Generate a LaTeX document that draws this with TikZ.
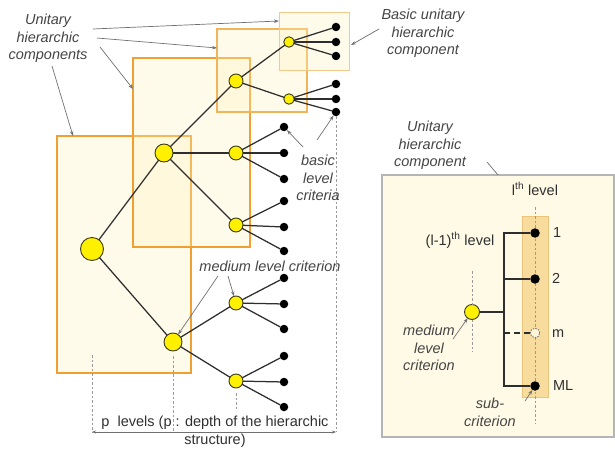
\documentclass[tikz,border=0pt]{standalone}
\usepackage{fontspec}
\setmainfont{Liberation Sans}
\usetikzlibrary{arrows.meta}
\definecolor{orng}{HTML}{F0A030}
\definecolor{orng2}{HTML}{F2B45A}
\definecolor{orng3}{HTML}{F4C98A}
\definecolor{boxfill}{HTML}{FFF3BC}
\definecolor{yel}{HTML}{FFF000}
\definecolor{ybord}{HTML}{3C3C1E}
\definecolor{edgec}{HTML}{2E2E2E}
\definecolor{leadc}{HTML}{707070}
\definecolor{dashc}{HTML}{9A9A9A}
\definecolor{labc}{HTML}{454545}
\definecolor{txtc}{HTML}{303030}
\definecolor{panfill}{HTML}{FEFAE6}
\definecolor{panbord}{HTML}{B5B5B5}
\definecolor{tanfill}{HTML}{F8DC9E}
\definecolor{tanbord}{HTML}{EBC47C}
\definecolor{mfill}{HTML}{FFF6D8}
\begin{document}
\begin{tikzpicture}[x=1pt,y=-1pt,
  every node/.style={inner sep=0pt, outer sep=0pt},
  ubox/.style={rectangle, draw=orng, line width=1.6pt, fill=boxfill, fill opacity=0.3, draw opacity=1, text opacity=1},
  ynode/.style={circle, draw=ybord, line width=0.9pt, fill=yel},
  leaf/.style={circle, fill=black, minimum size=8.5pt},
  edge/.style={draw=edgec, line width=1.25pt},
  lead/.style={draw=leadc, line width=0.7pt, -{Stealth[length=5pt,width=3.5pt]}},
  dsh/.style={draw=dashc, line width=0.7pt, dash pattern=on 2.5pt off 2pt},
  lab/.style={font=\fontsize{14.5}{17.5}\selectfont\itshape, text=labc, align=center},
  txt/.style={font=\fontsize{14.5}{18}\selectfont, text=txtc, align=center}
]
\useasboundingbox (0,0) rectangle (615,449);
\fill[white] (0,0) rectangle (615,449);

% ---------- left: unitary hierarchic component boxes
\node[ubox, minimum width=134pt, minimum height=237pt] (box1) at (124,254.5) {};
\node[ubox, minimum width=117pt, minimum height=189pt] (box2) at (191.5,152.5) {};
\node[ubox, draw=orng2, line width=1.3pt, minimum width=90pt, minimum height=83pt] (box3) at (262,70.5) {};
\node[ubox, draw=orng3, line width=1pt, minimum width=70pt, minimum height=58pt] (box4) at (314,42) {};

% ---------- tree nodes
\node[ynode, minimum size=23pt] (R) at (92,249) {};
\node[ynode, minimum size=18pt] (A) at (164,153) {};
\node[ynode, minimum size=18pt] (B) at (173,342) {};
\node[ynode, minimum size=14pt] (A1) at (236,81) {};
\node[ynode, minimum size=14pt] (A2) at (236,153) {};
\node[ynode, minimum size=14pt] (A3) at (236,225) {};
\node[ynode, minimum size=14pt] (B1) at (236,303) {};
\node[ynode, minimum size=14pt] (B2) at (236,381) {};
\node[ynode, minimum size=10.5pt] (A1a) at (289,42) {};
\node[ynode, minimum size=10.5pt] (A1b) at (289,99) {};

% leaves
\node[leaf] (L1) at (336,27) {};
\node[leaf] (L2) at (336,42) {};
\node[leaf] (L3) at (336,56) {};
\node[leaf] (L4) at (336,84) {};
\node[leaf] (L5) at (336,99) {};
\node[leaf] (L6) at (336,112) {};
\node[leaf] (L7) at (284,127) {};
\node[leaf] (L8) at (284,153) {};
\node[leaf] (L9) at (284,179) {};
\node[leaf] (L10) at (284,201) {};
\node[leaf] (L11) at (284,227) {};
\node[leaf] (L12) at (284,251) {};
\node[leaf] (L13) at (284,278) {};
\node[leaf] (L14) at (284,304) {};
\node[leaf] (L15) at (284,329) {};
\node[leaf] (L16) at (284,356) {};
\node[leaf] (L17) at (284,382) {};
\node[leaf] (L18) at (284,407) {};

% tree edges
\draw[edge] (R) -- (A);
\draw[edge] (R) -- (B);
\draw[edge] (A) -- (A1);
\draw[edge] (A) -- (A2);
\draw[edge] (A) -- (A3);
\draw[edge] (B) -- (B1);
\draw[edge] (B) -- (B2);
\draw[edge] (A1) -- (A1a);
\draw[edge] (A1) -- (A1b);
\draw[edge] (A1a) -- (L1);
\draw[edge] (A1a) -- (L2);
\draw[edge] (A1a) -- (L3);
\draw[edge] (A1b) -- (L4);
\draw[edge] (A1b) -- (L5);
\draw[edge] (A1b) -- (L6);
\draw[edge] (A2) -- (L7);
\draw[edge] (A2) -- (L8);
\draw[edge] (A2) -- (L9);
\draw[edge] (A3) -- (L10);
\draw[edge] (A3) -- (L11);
\draw[edge] (A3) -- (L12);
\draw[edge] (B1) -- (L13);
\draw[edge] (B1) -- (L14);
\draw[edge] (B1) -- (L15);
\draw[edge] (B2) -- (L16);
\draw[edge] (B2) -- (L17);
\draw[edge] (B2) -- (L18);

% ---------- depth dimension
\coordinate (d1t) at (92,355);
\coordinate (d1b) at (92,432);
\coordinate (d2t) at (173,356);
\coordinate (d2b) at (173,432);
\coordinate (d3t) at (236,393);
\coordinate (d3b) at (236,411);
\coordinate (d4b) at (336,432);
\draw[dsh] (d1t) -- (d1b);
\draw[dsh] (d2t) -- (d2b);
\draw[dsh] (d3t) -- (d3b);
\draw[dsh] (L6) -- (d4b);
\draw[draw=leadc, line width=0.7pt, {Stealth[length=4pt,width=3pt]}-{Stealth[length=4pt,width=3pt]}] (d1b) -- (d4b);
\node[txt, anchor=north] (plev) at (215,416) {p\ \ levels (p : depth of the hierarchic\\structure)};

% ---------- labels (left)
\node[lab, anchor=north] (ulab) at (48,14) {Unitary\\hierarchic\\components};
\coordinate (u1s) at (93,29);  \coordinate (u1e) at (279,21);
\coordinate (u2s) at (97,38);  \coordinate (u2e) at (217,48);
\coordinate (u3s) at (100,47); \coordinate (u3e) at (133,89);
\coordinate (u4s) at (52,66);  \coordinate (u4e) at (73,136);
\draw[lead] (u1s) -- (u1e);
\draw[lead] (u2s) -- (u2e);
\draw[lead] (u3s) -- (u3e);
\draw[lead] (u4s) -- (u4e);

\node[lab, anchor=north] (blab) at (423,9) {Basic unitary\\hierarchic\\component};
\coordinate (b1s) at (379,29); \coordinate (b1e) at (351,45);
\draw[lead] (b1s) -- (b1e);

\node[lab, anchor=north] (crit) at (318,155) {basic\\level\\criteria};
\coordinate (c1s) at (303,147); \coordinate (c2s) at (317,140);
\draw[lead] (c1s) -- (L7);
\draw[lead] (c2s) -- (L6);

\node[lab, anchor=base] (mlc) at (270,271) {medium level criterion};
\coordinate (m1s) at (218,276); \coordinate (m2s) at (228,276);
\draw[lead] (m1s) -- (B);
\draw[lead] (m2s) -- (B1);

% ---------- right panel
\node[rectangle, draw=panbord, line width=1.2pt, fill=panfill, minimum width=232pt, minimum height=262pt] (panel) at (498,306) {};
\node[lab, anchor=north] (plab) at (430,121) {Unitary\\hierarchic\\component};
\coordinate (p1s) at (487,162);
\coordinate (p1e) at (498,175);
\draw[draw=leadc, line width=0.7pt] (p1s) -- (p1e);

\node[rectangle, draw=tanbord, line width=0.8pt, fill=tanfill, minimum width=26pt, minimum height=181pt] (col) at (535,306.5) {};
\coordinate (ct) at (535,207);
\coordinate (cb) at (535,424);
\draw[dsh] (ct) -- (cb);

\node[txt, anchor=base] (lth) at (535,195) {l\textsuperscript{th} level};
\node[txt, anchor=base] (l1th) at (460,245) {(l-1)\textsuperscript{th} level};

\node[leaf, minimum size=9.5pt] (d1) at (535,233) {};
\node[leaf, minimum size=9.5pt] (d2) at (535,279) {};
\node[circle, draw=leadc, fill=mfill, line width=0.8pt, dash pattern=on 1.5pt off 1.2pt, minimum size=9.5pt] (dm) at (535,333) {};
\node[leaf, minimum size=9.5pt] (dML) at (535,386) {};

\node[txt, anchor=base west] (n1) at (553,237.5) {1};
\node[txt, anchor=base west] (n2) at (552,283.5) {2};
\node[txt, anchor=base west] (nm) at (552,337.5) {m};
\node[txt, anchor=base west] (nML) at (553,390.5) {ML};

\node[ynode, minimum size=15pt] (mc) at (472,312) {};
\coordinate (mct) at (472,271);
\coordinate (mcb) at (472,352);
\draw[dsh] (mct) -- (mc.north);
\draw[dsh] (mc.south) -- (mcb);

\coordinate (bt) at (504,233);
\coordinate (bb) at (504,386);
\draw[edge] (d1) -- (bt) -- (bb) -- (dML);
\draw[edge] (d2) -- (d2 -| bt);
\draw[edge] (mc) -- (mc -| bt);
\draw[edge, dash pattern=on 6pt off 4pt] (dm) -- (dm -| bt);

\node[lab, anchor=north] (rmlc) at (429,325) {medium\\level\\criterion};
\coordinate (r1s) at (453,339);
\draw[lead] (r1s) -- (mc);

\node[lab, anchor=north] (sub) at (490,398) {sub-\\criterion};
\coordinate (s1s) at (525,401);
\draw[lead] (s1s) -- (dML);
\end{tikzpicture}
\end{document}
